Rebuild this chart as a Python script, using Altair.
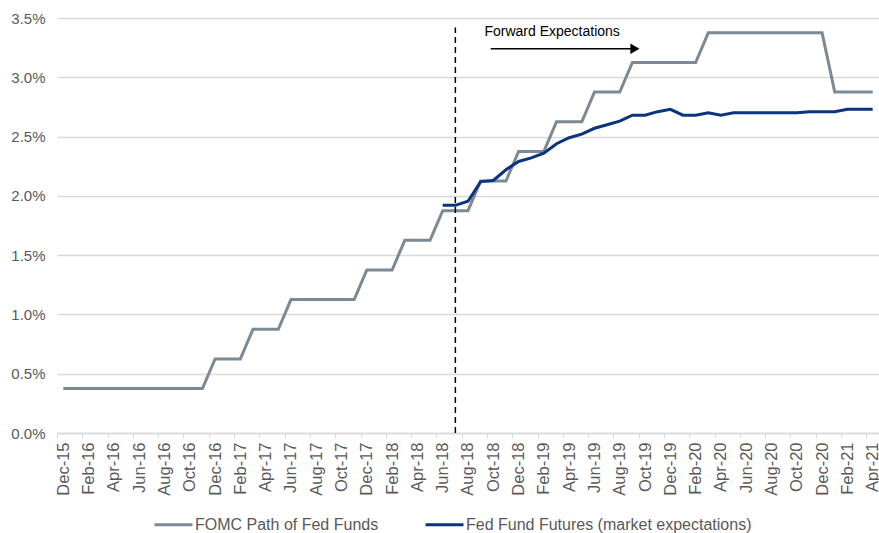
import altair as alt
import pandas as pd

# ---- data ----
months = list(pd.date_range("2015-12-01", "2021-04-01", freq="MS").strftime("%b-%y"))

fomc = [0.375, 0.375, 0.375, 0.375, 0.375, 0.375, 0.375, 0.375, 0.375, 0.375, 0.375, 0.375,
        0.625, 0.625, 0.625,
        0.875, 0.875, 0.875,
        1.125, 1.125, 1.125, 1.125, 1.125, 1.125,
        1.375, 1.375, 1.375,
        1.625, 1.625, 1.625,
        1.875, 1.875, 1.875,
        2.125, 2.125, 2.125,
        2.375, 2.375, 2.375,
        2.625, 2.625, 2.625,
        2.875, 2.875, 2.875,
        3.125, 3.125, 3.125, 3.125, 3.125, 3.125,
        3.375, 3.375, 3.375, 3.375, 3.375, 3.375, 3.375, 3.375, 3.375, 3.375,
        2.875, 2.875, 2.875, 2.875]

futures_start = "Jun-18"
futures = [1.92, 1.92, 1.955, 2.12, 2.13, 2.22, 2.29, 2.32, 2.36, 2.44, 2.49, 2.52,
           2.57, 2.60, 2.63, 2.68, 2.68, 2.71, 2.73, 2.68, 2.68, 2.70, 2.68, 2.70,
           2.70, 2.70, 2.70, 2.70, 2.70, 2.71, 2.71, 2.71, 2.73, 2.73, 2.73]

series_names = ["FOMC Path of Fed Funds", "Fed Fund Futures (market expectations)"]
series_colors = ["#7B8A95", "#0B3380"]

divider_month = "Jul-18"
divider_top = 3.42

annotation_text = "Forward Expectations"
annotation_pos = [33.3, 3.38]          # (month index, value)
arrow_x = [33.8, 44.9]
arrow_y = [3.24, 3.24]
arrow_head = [45.2, 3.24]

# ---- tables ----
rows = []
for i, v in enumerate(fomc):
    rows.append({"idx": i, "month": months[i], "value": v, "series": series_names[0]})
s0 = months.index(futures_start)
for j, v in enumerate(futures):
    rows.append({"idx": s0 + j, "month": months[s0 + j], "value": v, "series": series_names[1]})
df = pd.DataFrame(rows)

tick_vals = [-0.5 + 2 * k for k in range(33)]
label_list = months[0::2]
label_js = "[" + ",".join("'" + m + "'" for m in label_list) + "]"

FONT = "Liberation Sans"
GRAY_TXT = "#595959"
GRID = "#D9D9D9"

xscale = alt.Scale(domain=[-0.5, len(months) - 0.5], nice=False, zero=False)
yscale = alt.Scale(domain=[0, 3.5], nice=False)

lines = alt.Chart(df).mark_line(strokeWidth=3).encode(
    x=alt.X("idx:Q", scale=xscale, title=None,
            axis=alt.Axis(values=tick_vals, tickCount=80,
                          labelExpr=label_js + "[round((datum.value + 0.5) / 2)]",
                          labelAngle=270, labelOffset=6.3, labelPadding=4,
                          labelFont=FONT, labelFontSize=16.5, labelColor=GRAY_TXT,
                          labelOverlap=False, labelBound=False, labelFlush=False,
                          tickColor=GRID, tickSize=5, tickWidth=1,
                          domainColor=GRID, domainWidth=1.5, grid=False, title=None)),
    y=alt.Y("value:Q", scale=yscale, title=None,
            axis=alt.Axis(values=[0, 0.5, 1, 1.5, 2, 2.5, 3, 3.5], tickCount=20,
                          labelExpr="format(datum.value, '.1f') + '%'",
                          labelFont=FONT, labelFontSize=15, labelColor=GRAY_TXT,
                          labelPadding=12, ticks=False, domain=False,
                          gridColor=GRID, gridWidth=1.5, title=None)),
    color=alt.Color("series:N",
                    scale=alt.Scale(domain=series_names, range=series_colors),
                    legend=alt.Legend(title=None, orient="none", direction="horizontal",
                                      legendX=96, legendY=486,
                                      symbolType="stroke", symbolStrokeWidth=3,
                                      symbolSize=1444, labelFont=FONT, labelFontSize=16,
                                      labelColor=GRAY_TXT, labelOffset=1,
                                      columnPadding=40, labelLimit=400)),
    order="idx:Q",
)

div_df = pd.DataFrame({"idx": [months.index(divider_month)], "y0": [0.0], "y1": [divider_top]})
divider = alt.Chart(div_df).mark_rule(color="black", strokeWidth=1.5, strokeDash=[6, 4]).encode(
    x=alt.X("idx:Q", scale=xscale, title=None),
    y=alt.Y("y0:Q", scale=yscale, title=None),
    y2="y1:Q",
)

txt_df = pd.DataFrame({"idx": [annotation_pos[0]], "value": [annotation_pos[1]], "t": [annotation_text]})
label = alt.Chart(txt_df).mark_text(align="left", baseline="middle", font=FONT,
                                    fontSize=14, color="black").encode(
    x=alt.X("idx:Q", scale=xscale, title=None),
    y=alt.Y("value:Q", scale=yscale, title=None),
    text="t:N",
)

arrow_df = pd.DataFrame({"idx": arrow_x, "value": arrow_y})
arrow_line = alt.Chart(arrow_df).mark_line(color="black", strokeWidth=1.5).encode(
    x=alt.X("idx:Q", scale=xscale, title=None),
    y=alt.Y("value:Q", scale=yscale, title=None),
)
head_df = pd.DataFrame({"idx": [arrow_head[0]], "value": [arrow_head[1]]})
arrow_tip = alt.Chart(head_df).mark_point(shape="triangle-right", filled=True, size=110,
                                          color="black", opacity=1).encode(
    x=alt.X("idx:Q", scale=xscale, title=None),
    y=alt.Y("value:Q", scale=yscale, title=None),
)

chart = alt.layer(lines, divider, label, arrow_line, arrow_tip).properties(
    width=822, height=415,
    background="white",
    autosize=alt.AutoSizeParams(type="none"),
    padding={"left": 57, "top": 18, "right": 0, "bottom": 100},
).configure_view(stroke=None).configure_axis(labelOverlap=False)

chart.save("out.html", embed_options={"renderer": "svg", "actions": False})
